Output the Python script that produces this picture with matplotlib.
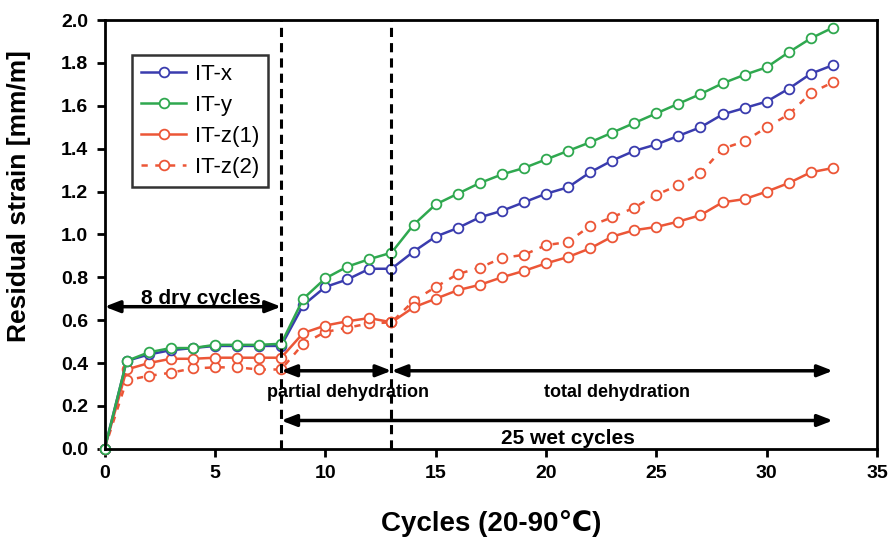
import matplotlib
matplotlib.use("Agg")
import matplotlib.pyplot as plt

plt.rcParams['font.family'] = ['Liberation Sans', 'DejaVu Sans']

# data
cycles = list(range(34))
it_x = [0, 0.41, 0.44, 0.46, 0.47, 0.48, 0.48, 0.48, 0.48,
        0.67, 0.755, 0.79, 0.84, 0.84,
        0.92, 0.99, 1.03, 1.08, 1.11, 1.15, 1.19,
        1.22, 1.29, 1.345, 1.39, 1.42, 1.46, 1.50,
        1.56, 1.59, 1.62, 1.68, 1.75, 1.79]
it_y = [0, 0.41, 0.45, 0.47, 0.47, 0.485, 0.485, 0.485, 0.49,
        0.70, 0.795, 0.85, 0.885, 0.915,
        1.045, 1.14, 1.19, 1.24, 1.28, 1.31, 1.35,
        1.39, 1.43, 1.475, 1.52, 1.565, 1.61, 1.655,
        1.705, 1.745, 1.78, 1.85, 1.915, 1.965]
it_z1 = [0, 0.37, 0.40, 0.42, 0.42, 0.425, 0.425, 0.425, 0.425,
         0.54, 0.575, 0.595, 0.61, 0.59,
         0.66, 0.70, 0.74, 0.765, 0.80, 0.83, 0.865,
         0.895, 0.935, 0.99, 1.02, 1.035, 1.06, 1.09,
         1.15, 1.165, 1.20, 1.24, 1.29, 1.31]
it_z2 = [0, 0.32, 0.34, 0.355, 0.375, 0.38, 0.38, 0.37, 0.37,
         0.49, 0.545, 0.565, 0.585, 0.59,
         0.69, 0.755, 0.815, 0.845, 0.89, 0.905, 0.95,
         0.965, 1.04, 1.08, 1.125, 1.185, 1.23, 1.285,
         1.40, 1.435, 1.50, 1.56, 1.66, 1.71]

phase_lines = [8, 13]
dry_end = 8
wet_end = 33

blue = '#3a3cae'
green = '#2fa84f'
red = '#ec5637'

fig = plt.figure(figsize=(8.94, 5.44), dpi=100)
ax = fig.add_axes([0.117, 0.175, 0.864, 0.788])

mk = dict(marker='o', markersize=7, markerfacecolor='white', markeredgewidth=1.3, clip_on=False)
ax.plot(cycles, it_z2, color=red, linestyle=(0, (2.5, 3)), linewidth=1.8, label='IT-z(2)', **mk)
ax.plot(cycles, it_z1, color=red, linewidth=1.8, label='IT-z(1)', **mk)
ax.plot(cycles, it_x, color=blue, linewidth=1.8, label='IT-x', **mk)
ax.plot(cycles, it_y, color=green, linewidth=1.8, label='IT-y', **mk)

for xv in phase_lines:
    ax.axvline(xv, color='black', linestyle=(0, (3, 2)), linewidth=2.2, zorder=5)

arrow = dict(arrowstyle='<|-|>,head_length=0.9,head_width=0.35', color='black',
             lw=2.5, shrinkA=0, shrinkB=0)
ax.annotate('', xy=(0, 0.663), xytext=(dry_end, 0.663), arrowprops=arrow)
ax.annotate('', xy=(8, 0.364), xytext=(13, 0.364), arrowprops=arrow)
ax.annotate('', xy=(13, 0.364), xytext=(wet_end, 0.364), arrowprops=arrow)
ax.annotate('', xy=(8, 0.132), xytext=(wet_end, 0.132), arrowprops=arrow)

ax.text(4.35, 0.70, '8 dry cycles', ha='center', va='center', fontsize=15, fontweight='bold')
ax.text(11.05, 0.265, 'partial dehydration', ha='center', va='center', fontsize=13, fontweight='bold')
ax.text(23.2, 0.265, 'total dehydration', ha='center', va='center', fontsize=13, fontweight='bold')
ax.text(21.0, 0.05, '25 wet cycles', ha='center', va='center', fontsize=15, fontweight='bold')

ax.set_xlim(0, 35)
ax.set_ylim(0, 2.0)
ax.set_xticks(range(0, 36, 5))
ax.set_yticks([i / 10 for i in range(0, 21, 2)])
ax.set_yticklabels(['%.1f' % (i / 10) for i in range(0, 21, 2)])
ax.tick_params(direction='out', length=6, width=2, labelsize=14, pad=6)
for lab in ax.get_xticklabels() + ax.get_yticklabels():
    lab.set_fontweight('bold')
for sp in ax.spines.values():
    sp.set_linewidth(2)

ax.set_xlabel('Cycles (20-90\u2103)', fontsize=20, fontweight='bold', labelpad=20)
ax.set_ylabel('Residual strain [mm/m]', fontsize=19, fontweight='bold')
ax.yaxis.set_label_coords(-0.095, 0.59)

handles, labels = ax.get_legend_handles_labels()
order = [2, 3, 1, 0]
leg = ax.legend([handles[i] for i in order], [labels[i] for i in order],
                loc='upper left', bbox_to_anchor=(0.036, 0.918), fontsize=16,
                frameon=True, fancybox=False, edgecolor='black', handlelength=2.0,
                handletextpad=0.4, borderpad=0.4, labelspacing=0.45, borderaxespad=0)
leg.get_frame().set_linewidth(1.8)

fig.savefig('out.png', dpi=100)
